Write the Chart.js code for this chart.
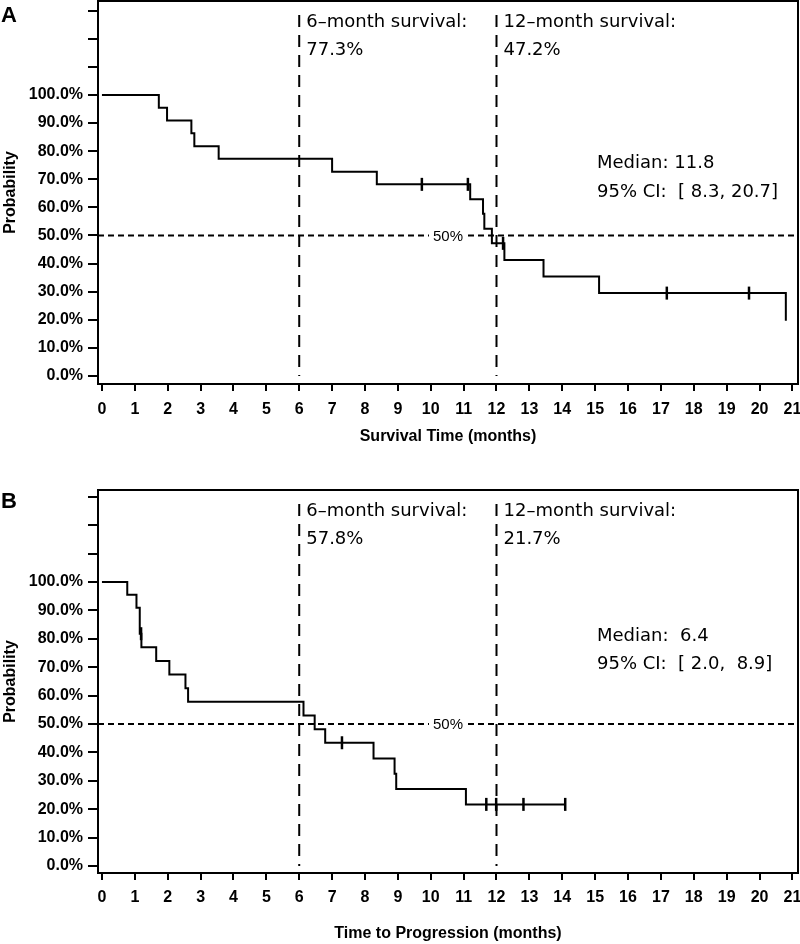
<!DOCTYPE html>
<html>
<head>
<meta charset="utf-8">
<script src="https://cdn.jsdelivr.net/npm/chart.js@4.4.0/dist/chart.umd.min.js"></script>
<style>
    html, body { margin: 0; padding: 0; background: #fff; }
    #wrap { position: relative; width: 800px; height: 944px; }
    canvas { position: absolute; left: 0; }
    #survA { top: 0; }
    #survB { top: 450px; }
</style>
</head>
<body>
<div id="wrap">
    <canvas id="survA" width="800" height="450"></canvas>
    <canvas id="survB" width="800" height="494"></canvas>
</div>
<script>
// axis ticks
var monthTicks = [0, 1, 2, 3, 4, 5, 6, 7, 8, 9, 10, 11, 12, 13, 14, 15, 16, 17, 18, 19, 20, 21];
var probTicks = [0, 10, 20, 30, 40, 50, 60, 70, 80, 90, 100, 110, 120, 130];
var landmarkMonths = [6, 12];

// A: survival time (months) / KM estimate (%)
var timesA = [0, 1.73, 1.98, 2.72, 2.81, 3.55, 7.0, 8.36, 11.2, 11.59, 11.63, 11.86, 12.24, 13.43, 15.12, 20.8];
var survA = [100, 95.5, 90.9, 86.4, 81.8, 77.3, 72.7, 68.2, 62.9, 57.7, 52.4, 47.2, 41.3, 35.4, 29.5, 19.7];
var censorTimesA = [9.73, 11.13, 12.2, 17.18, 19.68];
var censorSurvA = [68.2, 68.2, 47.2, 29.5, 29.5];
var landmarkTextA = ['77.3%', '47.2%'];
var medianTextA = ['Median: 11.8', '95% CI:  [ 8.3, 20.7]'];

// B: time to progression (months) / KM estimate (%)
var timesB = [0, 0.77, 1.05, 1.15, 1.2, 1.65, 2.05, 2.54, 2.62, 6.13, 6.47, 6.79, 8.26, 8.9, 8.95, 11.07, 14.09];
var survB = [100, 95.5, 90.9, 81.8, 77.0, 72.2, 67.4, 62.6, 57.8, 53.0, 48.2, 43.4, 37.9, 32.5, 27.1, 21.7, 21.7];
var censorTimesB = [1.19, 7.3, 11.69, 11.99, 12.82, 14.09];
var censorSurvB = [81.8, 43.4, 21.7, 21.7, 21.7, 21.7];
var landmarkTextB = ['57.8%', '21.7%'];
var medianTextB = ['Median:  6.4', '95% CI:  [ 2.0,  8.9]'];

(function() {
    'use strict';

    var TICK_FONT = { family: '"Liberation Sans", Arial, sans-serif', size: 16, weight: 'bold' };
    var NOTE_FONT = '18px "DejaVu Sans", sans-serif';

    function toPoints(xs, ys) {
        return xs.map(function (x, i) { return { x: x, y: ys[i] }; });
    }

    // reference lines, annotations, frame and panel letter
    var kmDecor = {
        id: 'kmDecor',
        beforeDatasetsDraw: function (chart, args, opts) {
            var ctx = chart.ctx;
            var a = chart.chartArea;
            var xs = chart.scales.x;
            var ys = chart.scales.y;
            var y50 = ys.getPixelForValue(50);
            var y0 = ys.getPixelForValue(0);
            var cx = (a.left + a.right) / 2;

            ctx.save();
            ctx.strokeStyle = '#000';

            ctx.lineWidth = 2;
            ctx.setLineDash([6, 4]);
            ctx.beginPath();
            ctx.moveTo(a.left, y50);
            ctx.lineTo(a.right, y50);
            ctx.stroke();

            ctx.setLineDash([12, 8]);
            landmarkMonths.forEach(function (m) {
                var px = xs.getPixelForValue(m);
                ctx.beginPath();
                ctx.moveTo(px, a.top + 14);
                ctx.lineTo(px, y0);
                ctx.stroke();
            });
            ctx.setLineDash([]);

            ctx.font = '15px "Liberation Sans", Arial, sans-serif';
            var w = ctx.measureText('50%').width;
            ctx.fillStyle = '#fff';
            ctx.fillRect(cx - w / 2 - 4, y50 - 3, w + 8, 6);
            ctx.fillStyle = '#000';
            ctx.textAlign = 'center';
            ctx.textBaseline = 'middle';
            ctx.fillText('50%', cx, y50 + 1);

            ctx.font = NOTE_FONT;
            ctx.textAlign = 'left';
            landmarkMonths.forEach(function (m, i) {
                var px = xs.getPixelForValue(m) + 7;
                ctx.fillText(m + '\u2013month survival:', px, a.top + 21);
                ctx.fillText(opts.landmarkText[i], px, a.top + 49);
            });
            ctx.fillText(opts.medianText[0], 597, ys.getPixelForValue(opts.medianY[0]));
            ctx.fillText(opts.medianText[1], 597, ys.getPixelForValue(opts.medianY[1]));
            ctx.restore();
        },
        afterDraw: function (chart, args, opts) {
            var ctx = chart.ctx;
            var a = chart.chartArea;
            ctx.save();
            ctx.strokeStyle = '#000';
            ctx.lineWidth = 2;
            ctx.strokeRect(a.left, a.top, a.right - a.left, a.bottom - a.top);
            ctx.fillStyle = '#000';
            ctx.font = 'bold 22px "Liberation Sans", Arial, sans-serif';
            ctx.textAlign = 'left';
            ctx.textBaseline = 'alphabetic';
            ctx.fillText(opts.letter, 1, opts.letterY);
            ctx.restore();
        }
    };

    function kmChart(id, cfg) {
        var ctx = document.getElementById(id).getContext('2d');
        return new Chart(ctx, {
            type: 'line',
            data: {
                datasets: [{
                    data: toPoints(cfg.times, cfg.surv),
                    stepped: true,
                    borderColor: '#000',
                    borderWidth: 2,
                    pointRadius: 0,
                    fill: false
                }, {
                    data: toPoints(cfg.censorTimes, cfg.censorSurv),
                    showLine: false,
                    pointStyle: 'line',
                    rotation: 90,
                    pointRadius: 6.5,
                    borderColor: '#000',
                    borderWidth: 2.5
                }]
            },
            options: {
                responsive: false,
                animation: false,
                layout: { autoPadding: false, padding: { top: cfg.padTop, right: 2, left: 0, bottom: 0 } },
                plugins: {
                    legend: { display: false },
                    tooltip: { enabled: false },
                    kmDecor: {
                        letter: cfg.letter,
                        letterY: cfg.letterY,
                        landmarkText: cfg.landmarkText,
                        medianText: cfg.medianText,
                        medianY: cfg.medianY
                    }
                },
                scales: {
                    x: {
                        type: 'linear',
                        min: -0.12,
                        max: 21.17,
                        afterBuildTicks: function (s) {
                            s.ticks = monthTicks.map(function (v) { return { value: v }; });
                        },
                        afterFit: function (s) {
                            s.height = cfg.xHeight;
                            s.paddingLeft = 0;
                            s.paddingRight = 0;
                        },
                        ticks: {
                            autoSkip: false,
                            maxRotation: 0,
                            padding: cfg.xTickPad,
                            color: '#000',
                            font: TICK_FONT,
                            callback: function (v) { return String(v); }
                        },
                        grid: { drawOnChartArea: false, drawTicks: true, tickLength: 7, lineWidth: 2, color: '#000' },
                        border: { display: false },
                        title: {
                            display: true,
                            text: cfg.xTitle,
                            color: '#000',
                            font: TICK_FONT,
                            padding: { top: 4, bottom: cfg.xTitlePad }
                        }
                    },
                    y: {
                        min: cfg.yMin,
                        max: cfg.yMax,
                        afterBuildTicks: function (s) {
                            s.ticks = probTicks.map(function (v) { return { value: v }; });
                        },
                        afterFit: function (s) {
                            s.width = 98;
                            s.paddingTop = 0;
                            s.paddingBottom = 0;
                        },
                        ticks: {
                            autoSkip: false,
                            padding: 5,
                            color: '#000',
                            font: TICK_FONT,
                            callback: function (v) { return v <= 100 ? v.toFixed(1) + '%' : ''; }
                        },
                        grid: { drawOnChartArea: false, drawTicks: true, tickLength: 10, lineWidth: 2, color: '#000' },
                        border: { display: false },
                        title: {
                            display: true,
                            text: 'Probability',
                            color: '#000',
                            font: TICK_FONT,
                            padding: { top: 1, bottom: 0 }
                        }
                    }
                }
            },
            plugins: [kmDecor]
        });
    }

    kmChart('survA', {
        times: timesA, surv: survA,
        censorTimes: censorTimesA, censorSurv: censorSurvA,
        landmarkText: landmarkTextA, medianText: medianTextA, medianY: [75.8, 65.5],
        xTitle: 'Survival Time (months)',
        letter: 'A', letterY: 22,
        padTop: 1, xHeight: 66, xTickPad: 9, xTitlePad: 4,
        yMin: -2.85, yMax: 133.45
    });

    kmChart('survB', {
        times: timesB, surv: survB,
        censorTimes: censorTimesB, censorSurv: censorSurvB,
        landmarkText: landmarkTextB, medianText: medianTextB, medianY: [81, 71.1],
        xTitle: 'Time to Progression (months)',
        letter: 'B', letterY: 58,
        padTop: 40, xHeight: 71, xTickPad: 8, xTitlePad: 1,
        yMin: -2.46, yMax: 132.4
    });
})();
</script>
</body>
</html>
